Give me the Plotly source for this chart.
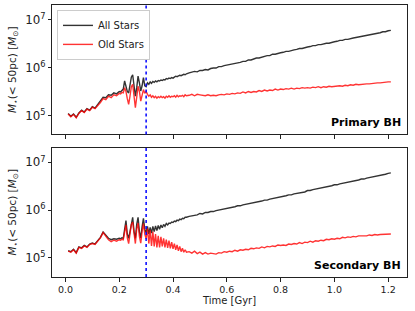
import numpy as np
import plotly.graph_objects as go
from plotly.subplots import make_subplots

# ---- time grid [Gyr] ----
time_a = [round(0.01 * i, 3) for i in range(1, 21)]            # 0.01 .. 0.20
time_b = [round(0.2 + 0.005 * i, 3) for i in range(1, 51)]     # 0.205 .. 0.45
time_c = [round(0.45 + 0.01 * i, 3) for i in range(1, 77)]     # 0.46 .. 1.21
time_gyr = time_a + time_b + time_c

# ---- log10 stellar mass within 50 pc, Primary BH ----
primary_all_log = [
    5.04, 4.98, 5.03, 4.96, 5.05, 5.11, 5.07, 5.14, 5.11, 5.18, 5.15, 5.22, 5.29, 5.38, 5.37, 5.43, 5.42, 5.47, 5.45, 5.50,
    5.49, 5.52, 5.55, 5.72, 5.62, 5.50, 5.47, 5.62, 5.80, 5.85, 5.60, 5.40, 5.58, 5.82, 5.68, 5.51, 5.62, 5.79, 5.62, 5.60,
    5.68, 5.65, 5.70, 5.67, 5.71, 5.69, 5.72, 5.70, 5.73, 5.72, 5.74, 5.73, 5.75, 5.74, 5.77, 5.76, 5.78, 5.77, 5.79, 5.78,
    5.80, 5.82, 5.81, 5.83, 5.84, 5.83, 5.85, 5.86, 5.85, 5.87,
    5.89, 5.90, 5.92, 5.91, 5.94, 5.94, 5.96, 5.95, 5.98, 5.99, 5.99, 6.02, 6.02, 6.04, 6.05, 6.07, 6.07, 6.09, 6.10, 6.11,
    6.13, 6.13, 6.16, 6.16, 6.18, 6.20, 6.20, 6.22, 6.23, 6.25, 6.25, 6.28, 6.28, 6.30, 6.31, 6.32, 6.34, 6.34, 6.36, 6.37,
    6.38, 6.40, 6.40, 6.42, 6.43, 6.44, 6.46, 6.46, 6.48, 6.48, 6.50, 6.51, 6.51, 6.53, 6.54, 6.55, 6.57, 6.57, 6.59, 6.59,
    6.61, 6.62, 6.63, 6.64, 6.65, 6.67, 6.67, 6.69, 6.70, 6.71, 6.72, 6.73, 6.75, 6.75, 6.77, 6.78,
]
primary_old_log = [
    5.03, 4.97, 5.02, 4.95, 5.04, 5.10, 5.06, 5.13, 5.10, 5.17, 5.14, 5.20, 5.27, 5.35, 5.33, 5.40, 5.37, 5.43, 5.41, 5.46,
    5.45, 5.48, 5.47, 5.58, 5.50, 5.35, 5.23, 5.40, 5.60, 5.65, 5.42, 5.16, 5.38, 5.61, 5.50, 5.30, 5.42, 5.54, 5.46, 5.50,
    5.44, 5.40, 5.43, 5.38, 5.41, 5.37, 5.40, 5.36, 5.39, 5.37, 5.40, 5.37, 5.39, 5.36, 5.40, 5.38, 5.41, 5.38, 5.40, 5.39,
    5.41, 5.38, 5.42, 5.39, 5.41, 5.40, 5.42, 5.39, 5.43, 5.41,
    5.42, 5.44, 5.41, 5.44, 5.43, 5.42, 5.41, 5.43, 5.41, 5.42, 5.41, 5.43, 5.44, 5.43, 5.45, 5.44, 5.46, 5.45, 5.47, 5.46,
    5.49, 5.47, 5.50, 5.48, 5.50, 5.49, 5.52, 5.50, 5.53, 5.51, 5.53, 5.52, 5.55, 5.53, 5.55, 5.54, 5.56, 5.55, 5.57, 5.55,
    5.57, 5.56, 5.58, 5.57, 5.58, 5.57, 5.59, 5.58, 5.60, 5.58, 5.60, 5.59, 5.61, 5.60, 5.61, 5.61, 5.62, 5.61, 5.63, 5.62,
    5.64, 5.63, 5.65, 5.64, 5.65, 5.65, 5.66, 5.66, 5.67, 5.67, 5.68, 5.68, 5.69, 5.69, 5.70, 5.70,
]

# ---- log10 stellar mass within 50 pc, Secondary BH ----
secondary_all_log = [
    5.15, 5.13, 5.18, 5.11, 5.23, 5.21, 5.26, 5.23, 5.29, 5.31, 5.29, 5.35, 5.43, 5.54, 5.47, 5.41, 5.38, 5.40, 5.39, 5.41,
    5.40, 5.42, 5.41, 5.60, 5.78, 5.50, 5.41, 5.55, 5.75, 5.85, 5.55, 5.41, 5.70, 5.85, 5.55, 5.42, 5.65, 5.83, 5.60, 5.53,
    5.66, 5.50, 5.64, 5.52, 5.66, 5.55, 5.67, 5.57, 5.68, 5.60, 5.69, 5.63, 5.70, 5.66, 5.72, 5.69, 5.73, 5.72, 5.75, 5.74,
    5.77, 5.76, 5.79, 5.78, 5.81, 5.80, 5.83, 5.82, 5.85, 5.85,
    5.87, 5.88, 5.90, 5.90, 5.93, 5.92, 5.95, 5.95, 5.97, 5.97, 5.99, 6.00, 6.01, 6.03, 6.04, 6.05, 6.06, 6.07, 6.09, 6.09,
    6.11, 6.12, 6.13, 6.15, 6.15, 6.17, 6.18, 6.19, 6.21, 6.21, 6.23, 6.24, 6.25, 6.27, 6.28, 6.29, 6.30, 6.32, 6.32, 6.34,
    6.35, 6.36, 6.38, 6.38, 6.41, 6.41, 6.43, 6.44, 6.45, 6.47, 6.47, 6.49, 6.50, 6.51, 6.53, 6.53, 6.55, 6.56, 6.57, 6.59,
    6.59, 6.61, 6.62, 6.63, 6.65, 6.65, 6.67, 6.68, 6.69, 6.71, 6.71, 6.73, 6.74, 6.75, 6.77, 6.78,
]
secondary_old_log = [
    5.14, 5.12, 5.17, 5.10, 5.22, 5.20, 5.25, 5.22, 5.28, 5.30, 5.28, 5.34, 5.42, 5.53, 5.45, 5.38, 5.34, 5.37, 5.35, 5.38,
    5.37, 5.39, 5.38, 5.55, 5.69, 5.42, 5.30, 5.50, 5.70, 5.75, 5.48, 5.30, 5.60, 5.73, 5.45, 5.31, 5.55, 5.72, 5.50, 5.40,
    5.62, 5.30, 5.58, 5.25, 5.55, 5.24, 5.50, 5.22, 5.46, 5.22, 5.44, 5.24, 5.41, 5.22, 5.38, 5.21, 5.36, 5.20, 5.33, 5.19,
    5.30, 5.17, 5.27, 5.15, 5.24, 5.13, 5.20, 5.12, 5.17, 5.12,
    5.13, 5.10, 5.14, 5.09, 5.12, 5.08, 5.11, 5.08, 5.10, 5.09, 5.08, 5.11, 5.10, 5.13, 5.12, 5.14, 5.13, 5.16, 5.14, 5.17,
    5.16, 5.18, 5.17, 5.20, 5.19, 5.21, 5.20, 5.23, 5.21, 5.24, 5.23, 5.25, 5.24, 5.27, 5.26, 5.27, 5.26, 5.29, 5.28, 5.30,
    5.29, 5.32, 5.30, 5.33, 5.32, 5.35, 5.33, 5.36, 5.35, 5.37, 5.36, 5.39, 5.38, 5.40, 5.39, 5.41, 5.40, 5.43, 5.42, 5.44,
    5.43, 5.45, 5.44, 5.46, 5.46, 5.47, 5.46, 5.48, 5.47, 5.49, 5.48, 5.49, 5.49, 5.50, 5.50, 5.50,
]

merger_time = 0.30
panel_labels = ["Primary BH", "Secondary BH"]
series_names = ["All Stars", "Old Stars"]
x_ticks = [0.0, 0.2, 0.4, 0.6, 0.8, 1.0, 1.2]

FONT = "DejaVu Sans"
fig = make_subplots(rows=2, cols=1, shared_xaxes=False, vertical_spacing=0.048)

panels = [(primary_all_log, primary_old_log), (secondary_all_log, secondary_old_log)]
for i, (all_log, old_log) in enumerate(panels):
    row = i + 1
    fig.add_trace(go.Scatter(x=time_gyr, y=10 ** np.array(all_log), mode="lines",
                             line=dict(color="rgba(0,0,0,0.8)", width=1.4),
                             name=series_names[0], showlegend=(i == 0)), row=row, col=1)
    fig.add_trace(go.Scatter(x=time_gyr, y=10 ** np.array(old_log), mode="lines",
                             line=dict(color="rgba(255,0,0,0.8)", width=1.4),
                             name=series_names[1], showlegend=(i == 0)), row=row, col=1)

axis_common = dict(showline=True, linecolor="#222", linewidth=1, mirror=True,
                   ticks="outside", ticklen=3.5, tickwidth=0.8, tickcolor="#222",
                   showgrid=False, zeroline=False,
                   tickfont=dict(family=FONT, size=9.5, color="#222"))
ytitle = "<i>M</i><sub>⋆</sub>(&lt; 50pc) [<i>M</i><sub>⊙</sub>]"
for i in range(2):
    row = i + 1
    fig.update_xaxes(range=[-0.05, 1.27], tickvals=x_ticks,
                     ticktext=[f"{v:.1f}" for v in x_ticks] if row == 2 else [""] * len(x_ticks),
                     row=row, col=1, **axis_common)
    fig.update_yaxes(type="log", range=[4.6, 7.31], dtick=1, exponentformat="power",
                     title=dict(text=ytitle, font=dict(family=FONT, size=10.5, color="#222"), standoff=6),
                     row=row, col=1, **axis_common)

fig.update_xaxes(title=dict(text="Time [Gyr]", font=dict(family=FONT, size=10, color="#222"), standoff=3),
                 row=2, col=1)

for i, yref in enumerate(["y", "y2"]):
    xref = "x" if i == 0 else "x2"
    fig.add_shape(type="line", xref=xref, yref=f"{yref} domain", x0=merger_time, x1=merger_time,
                  y0=0, y1=1, line=dict(color="blue", width=1.5, dash="dot"))
    fig.add_annotation(xref=f"{xref} domain", yref=f"{yref} domain", x=0.99, y=0.025,
                       xanchor="right", yanchor="bottom", showarrow=False,
                       text=f"<b>{panel_labels[i]}</b>",
                       font=dict(family=FONT, size=11, color="black"))

fig.update_layout(
    width=415, height=311,
    margin=dict(l=52, r=8, t=5, b=34),
    paper_bgcolor="white", plot_bgcolor="white",
    showlegend=True,
    legend=dict(x=0.014, y=0.982, xanchor="left", yanchor="top",
                bgcolor="white", bordercolor="#ccc", borderwidth=1,
                font=dict(family=FONT, size=10, color="#222"),
                itemwidth=30, tracegroupgap=0),
)

fig.write_html("out.html", config={"displayModeBar": False},
               post_script="document.body.style.margin='0';")
